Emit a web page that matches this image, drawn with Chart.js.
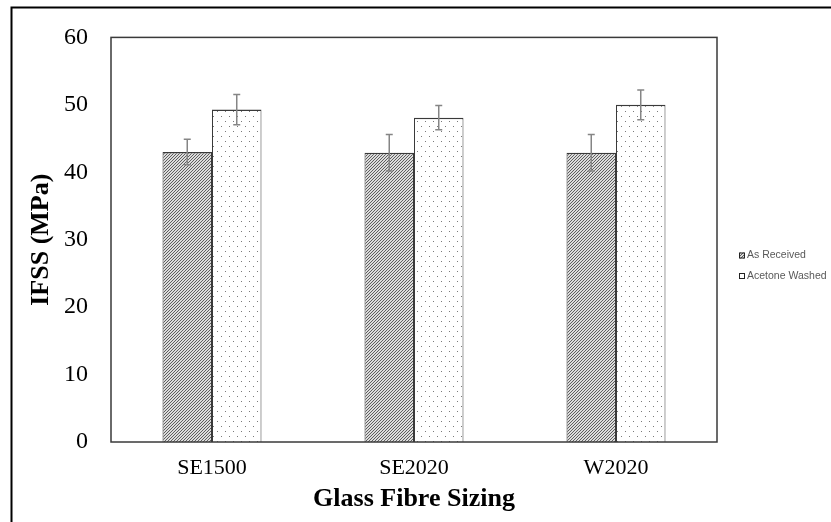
<!DOCTYPE html>
<html>
<head>
<meta charset="utf-8">
<script src="https://cdn.jsdelivr.net/npm/chart.js@4/dist/chart.umd.min.js"></script>
<style>
html,body{margin:0;padding:0;background:#fff;}
#wrap{position:relative;width:831px;height:522px;}
</style>
</head>
<body>
<div id="wrap"><canvas id="c" width="831" height="522"></canvas></div>
<script>
const categories = ["SE1500", "SE2020", "W2020"];
const seriesNames = ["As Received", "Acetone Washed"];
const asReceived = [43.0, 42.9, 42.9];
const asReceivedErr = [1.9, 2.7, 2.7];
const acetoneWashed = [49.3, 48.1, 50.0];
const acetoneWashedErr = [2.25, 1.8, 2.2];
const yTicks = [0, 10, 20, 30, 40, 50, 60];
const xTitle = "Glass Fibre Sizing";
const yTitle = "IFSS (MPa)";

function makeHatch() {
  const t = document.createElement('canvas');
  t.width = 3; t.height = 3;
  const g = t.getContext('2d');
  g.fillStyle = '#dcdcdc'; g.fillRect(0,0,3,3);
  g.fillStyle = '#5e5e5e';
  g.fillRect(0,2,1,1); g.fillRect(1,1,1,1); g.fillRect(2,0,1,1);
  return g.createPattern(t, 'repeat');
}
function makeDots() {
  const t = document.createElement('canvas');
  t.width = 8; t.height = 10;
  const g = t.getContext('2d');
  g.fillStyle = '#ffffff'; g.fillRect(0,0,8,10);
  g.fillStyle = '#7a7a7a';
  g.fillRect(1,1,1,1); g.fillRect(5,6,1,1);
  return g.createPattern(t, 'repeat');
}
const hatch = makeHatch();
const dots = makeDots();
const errs = [asReceivedErr, acetoneWashedErr];

const framePlugin = {
  id: 'frame',
  beforeDraw(chart) {
    const ctx = chart.ctx;
    ctx.save();
    ctx.fillStyle = '#fff';
    ctx.fillRect(0,0,chart.width,chart.height);
    ctx.strokeStyle = '#000';
    ctx.lineWidth = 2;
    ctx.beginPath();
    ctx.moveTo(11.5, chart.height);
    ctx.lineTo(11.5, 7.5);
    ctx.lineTo(chart.width, 7.5);
    ctx.stroke();
    ctx.restore();
  },
  afterDatasetsDraw(chart) {
    const ctx = chart.ctx;
    const y = chart.scales.y;
    ctx.save();
    ctx.strokeStyle = '#858585';
    ctx.lineWidth = 1.5;
    chart.data.datasets.forEach((ds, di) => {
      const meta = chart.getDatasetMeta(di);
      meta.data.forEach((bar, i) => {
        const v = ds.data[i], e = errs[di][i];
        const yt = y.getPixelForValue(v + e), yb = y.getPixelForValue(v - e);
        ctx.beginPath();
        ctx.moveTo(bar.x, yt); ctx.lineTo(bar.x, yb);
        ctx.moveTo(bar.x - 3.5, yt); ctx.lineTo(bar.x + 3.5, yt);
        ctx.moveTo(bar.x - 3.5, yb); ctx.lineTo(bar.x + 3.5, yb);
        ctx.stroke();
      });
    });
    const a = chart.chartArea;
    ctx.strokeStyle = '#3a3a3a';
    ctx.lineWidth = 1.5;
    ctx.strokeRect(a.left, a.top, a.right - a.left, a.bottom - a.top);
    // legend
    const fills = [hatch, '#ffffff'];
    const rows = [255.5, 276];
    ctx.font = '10.5px "Liberation Sans", Arial, sans-serif';
    ctx.textBaseline = 'middle';
    ctx.textAlign = 'left';
    seriesNames.forEach((n, k) => {
      ctx.fillStyle = fills[k];
      ctx.fillRect(739, rows[k] - 3, 6, 6);
      ctx.strokeStyle = '#222';
      ctx.lineWidth = 1;
      ctx.strokeRect(739.5, rows[k] - 2.5, 5, 5);
      ctx.fillStyle = '#595959';
      ctx.fillText(n, 747, rows[k]);
    });
    ctx.restore();
  }
};

new Chart(document.getElementById('c'), {
  type: 'bar',
  data: {
    labels: categories,
    datasets: [
      { label: seriesNames[0], data: asReceived, backgroundColor: hatch, borderColor: '#3a3a3a',
        borderWidth: {top: 1.5, left: 1, right: 1, bottom: 0} },
      { label: seriesNames[1], data: acetoneWashed, backgroundColor: dots, borderColor: '#3a3a3a',
        borderWidth: {top: 1.5, left: 1, right: 1, bottom: 0} }
    ]
  },
  options: {
    responsive: false,
    animation: false,
    devicePixelRatio: 1,
    layout: { padding: { top: 29, right: 114, left: 0, bottom: 0 } },
    datasets: { bar: { categoryPercentage: 0.49, barPercentage: 1.0 } },
    plugins: { legend: { display: false }, tooltip: { enabled: false } },
    scales: {
      x: {
        grid: { display: false, drawTicks: false },
        border: { display: false },
        ticks: { color: '#000', padding: 13, font: { family: '"Liberation Serif", "Times New Roman", serif', size: 22 } },
        title: { display: true, text: xTitle, color: '#000', padding: { top: 0, bottom: 7 },
          font: { family: '"Liberation Serif", "Times New Roman", serif', size: 26, weight: 'bold' } },
        afterFit(s) { s.height = 80; }
      },
      y: {
        min: 0, max: 60,
        grid: { display: false, drawTicks: false },
        border: { display: false },
        afterBuildTicks(s) { s.ticks = yTicks.map(v => ({ value: v })); },
        ticks: { color: '#000', padding: 23, font: { family: '"Liberation Serif", "Times New Roman", serif', size: 24 } },
        title: { display: true, text: yTitle, color: '#000', padding: { top: 26, bottom: 0 },
          font: { family: '"Liberation Serif", "Times New Roman", serif', size: 26, weight: 'bold' } },
        afterFit(s) { s.width = 111; }
      }
    }
  },
  plugins: [framePlugin]
});
</script>
</body>
</html>
